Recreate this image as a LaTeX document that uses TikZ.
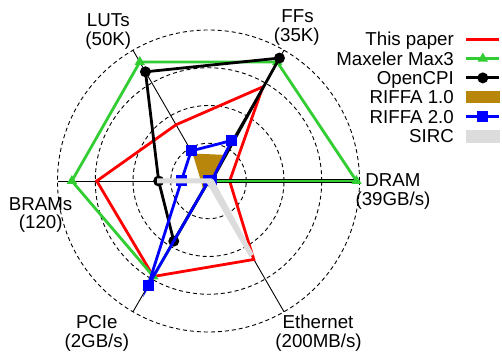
\documentclass[tikz,border=0pt]{standalone}
\usepackage{fontspec}
\setmainfont{Liberation Sans}
\usetikzlibrary{shapes.geometric}

\definecolor{paperred}{RGB}{255,0,0}
\definecolor{maxgreen}{RGB}{50,205,50}
\definecolor{riffabrown}{RGB}{184,134,11}
\definecolor{riffablue}{RGB}{0,0,255}
\definecolor{sircgray}{RGB}{220,220,220}

\newcommand\chartR{151}
% named vertices of one series: values for FFs, DRAM, Ethernet, PCIe, BRAMs, LUTs
\newcommand\defseries[7]{%
  \foreach \ang/\val/\nm in {60/#2/ff,0/#3/dram,-60/#4/eth,-120/#5/pcie,180/#6/bram,120/#7/lut}
    {\coordinate (#1-\nm) at (\ang:{\val*\chartR});}}
\newcommand\ringpath[1]{(#1-ff) -- (#1-dram) -- (#1-eth) -- (#1-pcie) -- (#1-bram) -- (#1-lut) -- cycle}

\begin{document}
\begin{tikzpicture}[x=1pt,y=1pt,
  lbl/.style={font=\fontsize{18.7}{19}\selectfont, inner sep=0pt},
  ring/.style={dash pattern=on 4pt off 3pt, line width=0.9pt},
  spoke/.style={line width=0.9pt},
  series/.style={line width=2.8pt, line join=miter},
  tri/.style={regular polygon, regular polygon sides=3, fill=maxgreen, inner sep=0pt, minimum size=12pt},
  dot/.style={circle, fill=black, inner sep=0pt, minimum size=11pt},
  sq/.style={rectangle, fill=riffablue, inner sep=0pt, minimum size=11pt},
  keybox/.style={rectangle, inner sep=0pt, minimum width=34.6pt, minimum height=12.6pt}]
\useasboundingbox (0,0) rectangle (502,356);

\begin{scope}[shift={(208.5,175)}]
  \coordinate (ctr) at (0,0);
  % grid rings and axes
  \foreach \r in {0.25,0.5,0.75,1} \draw[ring] (ctr) circle ({\r*\chartR});
  \foreach \a/\nm in {60/ff,0/dram,-60/eth,-120/pcie,180/bram,120/lut}
    {\coordinate (tip-\nm) at (\a:\chartR); \draw[spoke] (ctr) -- (tip-\nm);}

  % series values
  \defseries{red}{0.72}{0.14}{0.60}{0.73}{0.74}{0.43}
  \defseries{green}{0.91}{0.98}{0}{0.73}{0.905}{0.91}
  \defseries{black}{0.94}{0.02}{0}{0.46}{0.33}{0.835}
  \defseries{brown}{0.20}{0.03}{0}{0.07}{0.05}{0.21}
  \defseries{blue}{0.31}{0.02}{0}{0.80}{0.18}{0.23}
  \defseries{gray}{0}{0.02}{0.57}{0}{0.34}{0}

  % This paper
  \draw[series, paperred] \ringpath{red};

  % Maxeler Max3
  \draw[series, maxgreen] \ringpath{green};
  \draw[line width=3.2pt, black] (green-dram) -- (ctr);
  \draw[line width=1.3pt, maxgreen] (green-dram) -- (ctr);
  \foreach \nm in {ff,dram,eth,pcie,bram,lut} \node[tri] (green-\nm-mk) at (green-\nm) {};

  % OpenCPI
  \draw[series, black] \ringpath{black};
  \foreach \nm in {ff,dram,eth,pcie,bram,lut} \node[dot] (black-\nm-mk) at (black-\nm) {};

  % RIFFA 1.0
  \fill[riffabrown] \ringpath{brown};

  % RIFFA 2.0
  \draw[series, riffablue] \ringpath{blue};
  \foreach \nm in {ff,dram,eth,pcie,bram,lut} \node[sq] (blue-\nm-mk) at (blue-\nm) {};

  % SIRC
  \filldraw[sircgray, line width=5pt, line join=bevel] \ringpath{gray};
\end{scope}

% axis labels
\node[lbl, anchor=base] (lutA) at (108.3,329.5) {LUTs};
\node[lbl, anchor=base] (lutB) at (108.3,310.5) {(50K)};
\node[lbl, anchor=base] (ffA) at (297.5,333) {FFs};
\node[lbl, anchor=base] (ffB) at (296.8,314) {(35K)};
\node[lbl, anchor=base] (dramA) at (393,169.5) {DRAM};
\node[lbl, anchor=base] (dramB) at (393,150.2) {(39GB/s)};
\node[lbl, anchor=base] (ethA) at (318,27.5) {Ethernet};
\node[lbl, anchor=base] (ethB) at (318.5,9) {(200MB/s)};
\node[lbl, anchor=base] (pcieA) at (96.8,27.5) {PCIe};
\node[lbl, anchor=base] (pcieB) at (96.8,9) {(2GB/s)};
\node[lbl, anchor=base] (bramA) at (40.6,145.5) {BRAMs};
\node[lbl, anchor=base] (bramB) at (40.8,127.7) {(120)};

% legend
\foreach \i/\txt in {0/This paper,1/Maxeler Max3,2/OpenCPI,3/RIFFA 1.0,4/RIFFA 2.0,5/SIRC} {
  \node[lbl, anchor=base east] (key\i) at (454,310-19.3*\i) {\txt};
  \coordinate (keyL\i) at (466,316.7-19.3*\i);
  \coordinate (keyR\i) at (499,316.7-19.3*\i);
  \coordinate (keyM\i) at (482.8,316.7-19.3*\i);
}
\draw[series, paperred] (keyL0) -- (keyR0);
\draw[series, maxgreen] (keyL1) -- (keyR1);
\node[tri] (keymk1) at (keyM1) {};
\draw[series, black] (keyL2) -- (keyR2);
\node[dot] (keymk2) at (keyM2) {};
\node[keybox, fill=riffabrown] (keymk3) at (483,259) {};
\draw[series, riffablue] (keyL4) -- (keyR4);
\node[sq] (keymk4) at (keyM4) {};
\node[keybox, fill=sircgray] (keymk5) at (483,219.6) {};
\end{tikzpicture}
\end{document}
